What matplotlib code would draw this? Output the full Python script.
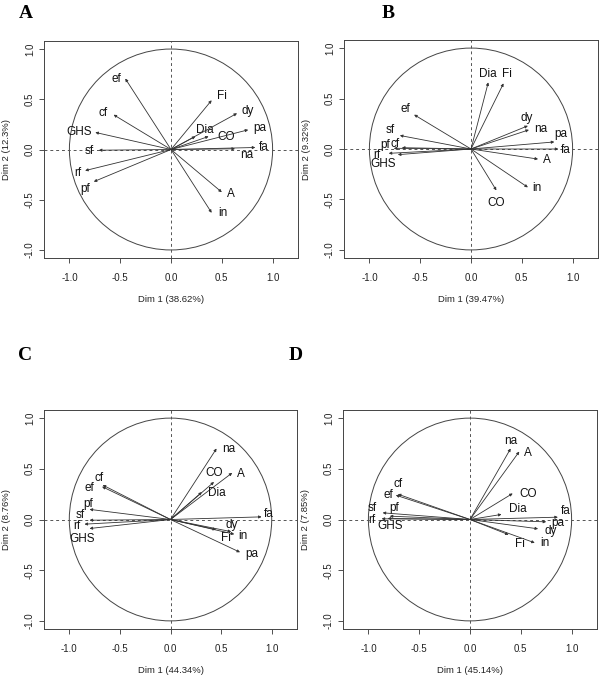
import numpy as np
import matplotlib
matplotlib.use('Agg')
import matplotlib.pyplot as plt
from matplotlib.patches import Circle

# variable names, same order in every panel
variables = ['A', 'CO', 'Dia', 'Fi', 'GHS', 'cf', 'dy', 'ef', 'fa', 'in', 'na', 'pa', 'pf', 'rf', 'sf']

# coordinates
dim1_A = [0.50, 0.37, 0.24, 0.40, -0.745, -0.565, 0.65, -0.45, 0.83, 0.40, 0.63, 0.76, -0.76, -0.845, -0.71]
dim2_A = [-0.425, 0.13, 0.13, 0.49, 0.17, 0.346, 0.36, 0.706, 0.02, -0.63, 0.007, 0.196, -0.32, -0.21, -0.007]

dim1_B = [0.66, 0.25, 0.17, 0.32, -0.72, -0.68, 0.56, -0.56, 0.86, 0.56, 0.57, 0.82, -0.76, -0.81, -0.70]
dim2_B = [-0.10, -0.41, 0.66, 0.65, -0.056, 0.013, 0.23, 0.34, 0.0, -0.38, 0.19, 0.07, 0.007, -0.043, 0.134]

dim1_C = [0.61, 0.43, 0.31, 0.45, -0.80, -0.67, 0.60, -0.676, 0.90, 0.63, 0.455, 0.687, -0.80, -0.85, -0.80]
dim2_C = [0.46, 0.37, 0.27, -0.10, -0.089, 0.34, -0.12, 0.324, 0.026, -0.145, 0.70, -0.323, 0.10, -0.046, -0.007]

dim1_D = [0.485, 0.42, 0.31, 0.38, -0.81, -0.71, 0.67, -0.73, 0.865, 0.637, 0.40, 0.75, -0.79, -0.87, -0.86]
dim2_D = [0.67, 0.257, 0.05, -0.15, 0.01, 0.25, -0.092, 0.24, 0.023, -0.23, 0.70, -0.023, 0.033, 0.007, 0.066]

pct_dim1 = ['38.62', '39.47', '44.34', '45.14']
pct_dim2 = ['12.3', '9.32', '8.76', '7.85']
panel_names = ['A', 'B', 'C', 'D']

# label placement (data-unit offsets from arrow tip), layout only
offs_A = {'A': (0.085, -0.013), 'CO': (0.17, -0.007), 'Dia': (0.09, 0.06), 'Fi': (0.098, 0.042),
          'GHS': (-0.163, 0), 'cf': (-0.105, 0.016), 'dy': (0.105, 0.026), 'ef': (-0.088, 0),
          'fa': (0.082, 0), 'in': (0.114, -0.007), 'na': (0.114, -0.065), 'pa': (0.114, 0.02),
          'pf': (-0.082, -0.075), 'rf': (-0.075, -0.023), 'sf': (-0.098, -0.01)}
offs_B = {'A': (0.083, -0.013), 'CO': (0, -0.125), 'Dia': (0, 0.086), 'Fi': (0.033, 0.09),
          'GHS': (-0.14, -0.095), 'cf': (-0.066, 0.04), 'dy': (-0.016, 0.073), 'ef': (-0.09, 0.055),
          'fa': (0.073, -0.007), 'in': (0.092, -0.007), 'na': (0.116, 0.01), 'pa': (0.059, 0.08),
          'pf': (-0.08, 0.03), 'rf': (-0.12, -0.016), 'sf': (-0.10, 0.05)}
offs_C = {'A': (0.09, -0.013), 'CO': (0, 0.09), 'Dia': (0.15, -0.01), 'Fi': (0.10, -0.08),
          'GHS': (-0.075, -0.106), 'cf': (-0.04, 0.066), 'dy': (0, 0.07), 'ef': (-0.125, -0.017),
          'fa': (0.066, 0.026), 'in': (0.086, -0.013), 'na': (0.12, -0.007), 'pa': (0.12, -0.02),
          'pf': (-0.015, 0.05), 'rf': (-0.08, -0.017), 'sf': (-0.09, 0.05)}
offs_D = {'A': (0.086, -0.017), 'CO': (0.15, -0.01), 'Dia': (0.16, 0.05), 'Fi': (0.115, -0.09),
          'GHS': (0.02, -0.076), 'cf': (0, 0.097), 'dy': (0.12, -0.017), 'ef': (-0.07, -0.002),
          'fa': (0.075, 0.06), 'in': (0.1, 0), 'na': (0, 0.076), 'pa': (0.11, -0.01),
          'pf': (0.04, 0.076), 'rf': (-0.1, -0.014), 'sf': (-0.10, 0.05)}

panels = [(dim1_A, dim2_A, offs_A), (dim1_B, dim2_B, offs_B),
          (dim1_C, dim2_C, offs_C), (dim1_D, dim2_D, offs_D)]

# axes boxes in pixels (left, top, right, bottom) on a 600x676 canvas
W, H = 600, 676
boxes = [(44, 41, 298, 258), (344, 40, 598, 258), (44, 410, 297, 629), (343, 410, 597, 629)]
letter_pos = [(26, 13), (388, 13), (25, 355), (296, 355)]

plt.rcParams['font.family'] = 'Liberation Sans'
fig = plt.figure(figsize=(W / 100, H / 100), dpi=100)

line_col = '#333333'
for k, (x, y, offs) in enumerate(panels):
    l, t, r, b = boxes[k]
    ax = fig.add_axes([l / W, (H - b) / H, (r - l) / W, (b - t) / H])
    ax.set_xlim(-1.25, 1.25)
    ax.set_ylim(-1.08, 1.08)

    ax.add_patch(Circle((0, 0), 1, fill=False, lw=0.7, ec='#444444'))
    ax.axhline(0, ls=(0, (3, 3)), lw=0.7, color='#555555')
    ax.axvline(0, ls=(0, (3, 3)), lw=0.7, color='#555555')

    for i, v in enumerate(variables):
        ax.annotate('', xy=(x[i], y[i]), xytext=(0, 0),
                    arrowprops=dict(arrowstyle='-|>', lw=0.6, color=line_col,
                                    mutation_scale=4, shrinkA=0, shrinkB=0))
        dx, dy = offs[v]
        ax.text(x[i] + dx, y[i] + dy, v, fontsize=8.5, ha='center', va='center', color='#111111')

    ticks = [-1.0, -0.5, 0.0, 0.5, 1.0]
    ax.set_xticks(ticks)
    ax.set_yticks(ticks)
    ax.set_xticklabels(['%.1f' % t for t in ticks])
    ax.set_yticklabels(['%.1f' % t for t in ticks], rotation=90, va='center')
    ax.tick_params(labelsize=7, length=3.5, width=0.6, color='#333333', labelcolor='#222222')
    ax.tick_params(axis='x', pad=7)
    ax.tick_params(axis='y', pad=3)
    for s in ax.spines.values():
        s.set_linewidth(0.7)
        s.set_color('#444444')

    ax.set_xlabel('Dim 1 (%s%%)' % pct_dim1[k], fontsize=6.8, labelpad=9, color='#222222')
    ax.set_ylabel('Dim 2 (%s%%)' % pct_dim2[k], fontsize=6.8, labelpad=10, color='#222222')

    lx, ly = letter_pos[k]
    fig.text(lx / W, 1 - ly / H, panel_names[k], fontsize=14, fontweight='bold',
             family='Liberation Serif', ha='center', va='center')

fig.savefig('out.png', dpi=100)
